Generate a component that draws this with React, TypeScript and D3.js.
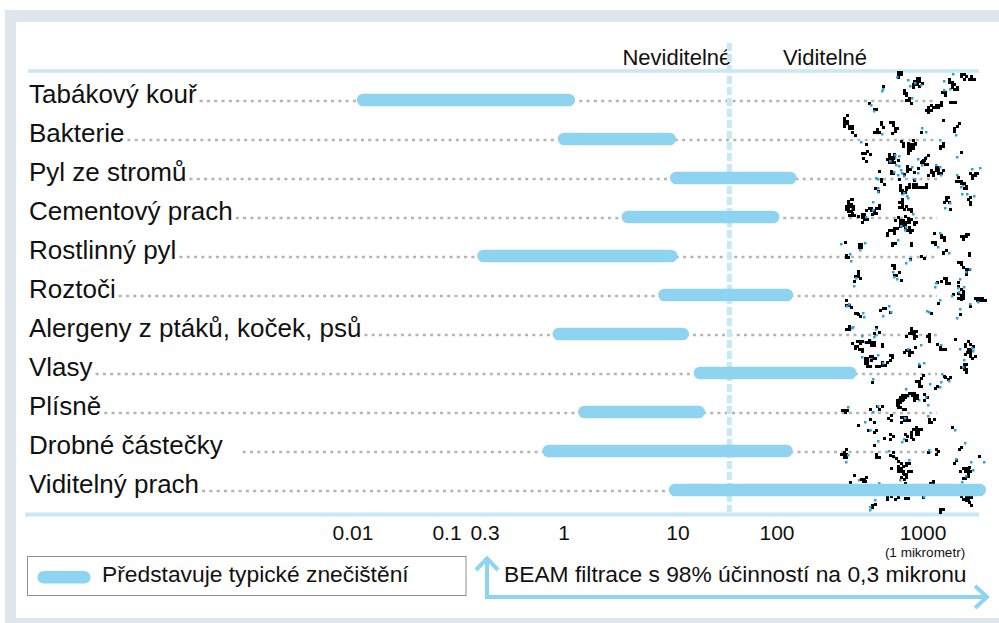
import React, { useEffect, useRef } from 'react';
import * as d3 from 'd3';

// ---- data ----
const categories = [
  'Tabákový kouř',
  'Bakterie',
  'Pyl ze stromů',
  'Cementový prach',
  'Rostlinný pyl',
  'Roztoči',
  'Alergeny z ptáků, koček, psů',
  'Vlasy',
  'Plísně',
  'Drobné částečky',
  'Viditelný prach',
];
const sizeMin = [0.011, 0.91, 8.5, 3.2, 0.24, 6.7, 0.84, 14.4, 1.33, 0.72, 8.3];
const sizeMax = [1.25, 9.6, 136, 104, 9.9, 129, 12.9, 351, 18.7, 128, 2700];
const tickValues = [0.01, 0.1, 0.3, 1, 10, 100, 1000];
const tickLabels = ['0.01', '0.1', '0.3', '1', '10', '100', '1000'];
const visibilityLimit = 33;
const headerLabels = ['Neviditelné', 'Viditelné'];
const legendLabel = 'Představuje typické znečištění';
const filterLabel = 'BEAM filtrace s 98% účinností na 0,3 mikronu';
const micrometerNote = '(1 mikrometr)';

const FONT = '"Liberation Sans", Arial, Helvetica, sans-serif';
const BAR = '#8ed4f0';
const LINE = '#c6e8f7';

export default function App() {
  const ref = useRef<SVGSVGElement>(null);

  useEffect(() => {
    const svg = d3.select(ref.current);
    svg.selectAll('*').remove();

    // frame
    svg.append('rect').attr('x', 5).attr('y', 10).attr('width', 994).attr('height', 613).attr('fill', '#dce6ec');
    svg.append('rect').attr('x', 16).attr('y', 22).attr('width', 983).attr('height', 596).attr('fill', '#fff');

    const x = d3
      .scaleLog()
      .domain(tickValues)
      .range([353, 447, 485, 564, 678, 777, 923]);
    const y = d3.scalePoint<string>().domain(categories).range([100, 490]);

    // top & bottom axis lines
    svg.append('line').attr('x1', 28).attr('x2', 979).attr('y1', 71).attr('y2', 71)
      .attr('stroke', LINE).attr('stroke-width', 3.4);
    svg.append('line').attr('x1', 25).attr('x2', 979).attr('y1', 514.5).attr('y2', 514.5)
      .attr('stroke', LINE).attr('stroke-width', 4);

    // header labels
    svg.append('text').attr('x', x(visibilityLimit) + 2).attr('y', 65).attr('text-anchor', 'end')
      .attr('font-family', FONT).attr('font-size', 22).attr('fill', '#111').text(headerLabels[0]);
    svg.append('text').attr('x', 783).attr('y', 65)
      .attr('font-family', FONT).attr('font-size', 22).attr('fill', '#111').text(headerLabels[1]);

    // labels + dotted leaders
    const rows = svg.append('g');
    categories.forEach((c, i) => {
      const yy = y(c) as number;
      const t = rows.append('text').attr('x', 29).attr('y', yy + 2.5)
        .attr('font-family', FONT).attr('font-size', 26).attr('fill', '#111').text(c);
      const w = (t.node() as SVGTextElement).getComputedTextLength();
      const start = 29 + w + (i === 9 ? 20 : 3);
      rows.append('line').attr('x1', start).attr('x2', 937).attr('y1', yy + 1).attr('y2', yy + 1)
        .attr('stroke', '#b4b4b4').attr('stroke-width', 2.6).attr('stroke-dasharray', '3 4.3');
    });

    // decorative dust texture (not data)
    const rng = d3.randomLcg(0.4242);
    const dust = svg.append('g');
    for (let i = 0; i < 210; i++) {
      const cx = 843 + rng() * 136;
      const cy = 68 + rng() * 448;
      const n = 1 + Math.floor(rng() * rng() * 16);
      let px = cx, py = cy;
      for (let k = 0; k < n; k++) {
        dust.append('rect').attr('x', Math.round(px)).attr('y', Math.round(py))
          .attr('width', 3).attr('height', 3).attr('fill', '#000');
        px += (Math.floor(rng() * 3) - 1) * 2.5;
        py += (Math.floor(rng() * 3) - 1) * 2.5;
      }
      const nb = Math.floor(rng() * 3);
      for (let k = 0; k < nb; k++) {
        dust.append('rect').attr('x', Math.round(cx + (rng() - 0.5) * 12)).attr('y', Math.round(cy + (rng() - 0.5) * 12))
          .attr('width', 2.5).attr('height', 2.5).attr('fill', '#2aa3e2');
      }
    }

    // visibility dashed line
    svg.append('line').attr('x1', x(visibilityLimit)).attr('x2', x(visibilityLimit))
      .attr('y1', 43).attr('y2', 512).attr('stroke', LINE).attr('stroke-width', 5)
      .attr('stroke-dasharray', '8 3');

    // bars
    svg.append('g').selectAll('rect').data(categories).join('rect')
      .attr('x', (_, i) => x(sizeMin[i]))
      .attr('width', (_, i) => x(sizeMax[i]) - x(sizeMin[i]))
      .attr('y', (c) => (y(c) as number) - 6.3)
      .attr('height', 12.6)
      .attr('rx', 6.3)
      .attr('fill', BAR);

    // tick labels
    svg.append('g').selectAll('text').data(tickValues).join('text')
      .attr('x', (d) => x(d)).attr('y', 540).attr('text-anchor', 'middle')
      .attr('font-family', FONT).attr('font-size', 21).attr('fill', '#111')
      .text((_, i) => tickLabels[i]);
    svg.append('text').attr('x', x(1000) + 2).attr('y', 557).attr('text-anchor', 'middle')
      .attr('font-family', FONT).attr('font-size', 13.5).attr('fill', '#111').text(micrometerNote);

    // legend
    svg.append('rect').attr('x', 27.5).attr('y', 556.5).attr('width', 438.5).attr('height', 39)
      .attr('fill', '#fff').attr('stroke', '#8f8f8f').attr('stroke-width', 1);
    svg.append('rect').attr('x', 37.5).attr('y', 571).attr('width', 53).attr('height', 12.6).attr('rx', 6.3).attr('fill', BAR);
    svg.append('text').attr('x', 102).attr('y', 582).attr('font-family', FONT).attr('font-size', 22.8)
      .attr('fill', '#111').text(legendLabel);

    // filtration arrow
    const ax = x(0.3) + 2;
    svg.append('path').attr('d', `M${ax},559 V597 H987`).attr('fill', 'none').attr('stroke', BAR).attr('stroke-width', 4);
    svg.append('path').attr('d', `M${ax - 11},570 L${ax},558.5 L${ax + 11},570`).attr('fill', 'none').attr('stroke', BAR).attr('stroke-width', 4);
    svg.append('path').attr('d', `M975,586 L987,597 L975,608`).attr('fill', 'none').attr('stroke', BAR).attr('stroke-width', 4);
    svg.append('text').attr('x', 504).attr('y', 582).attr('font-family', FONT).attr('font-size', 22.8)
      .attr('fill', '#111').text(filterLabel);
  }, []);

  return (
    <svg
      ref={ref}
      width={999}
      height={623}
      style={{ position: 'fixed', left: 0, top: 0, display: 'block', background: '#fff' }}
    />
  );
}
